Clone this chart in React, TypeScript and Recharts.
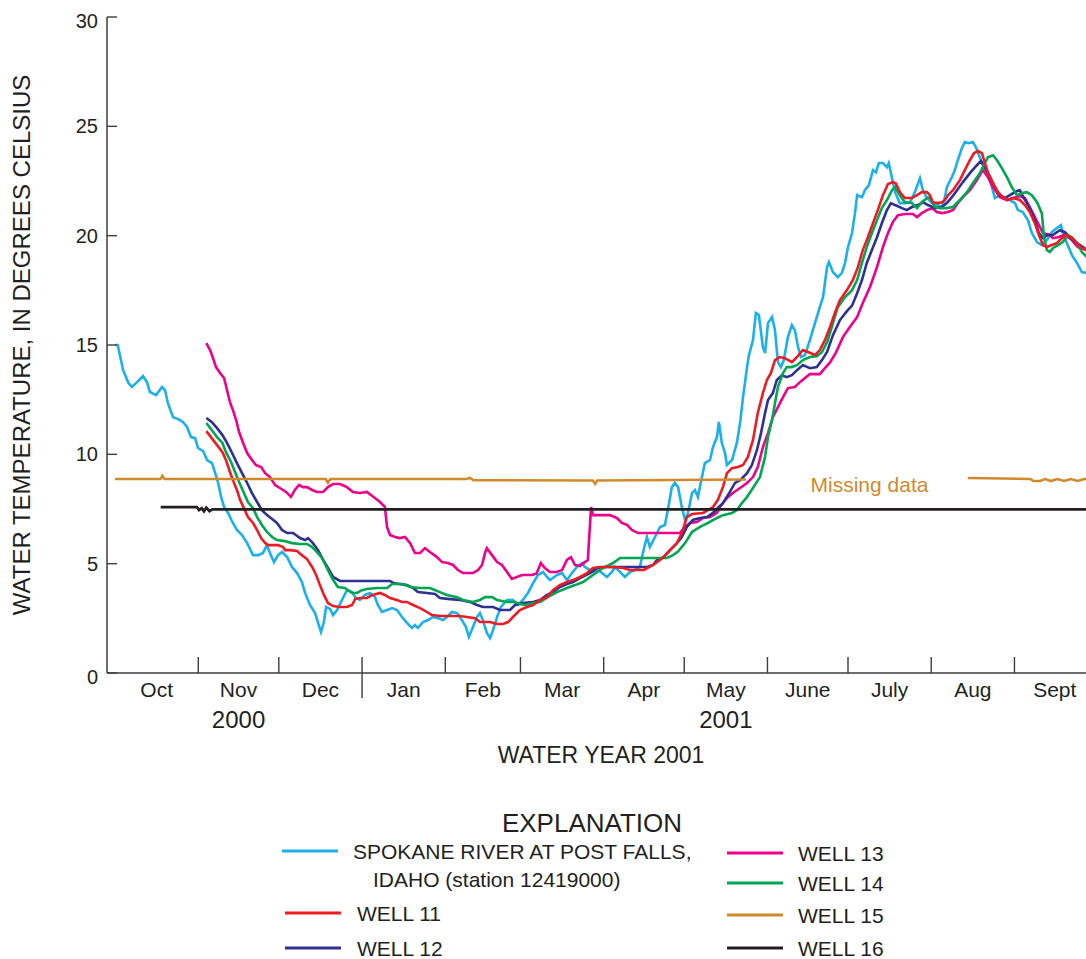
import React from 'react';
import { LineChart, Line, XAxis, YAxis, ReferenceDot } from 'recharts';

type Pt = [number, number | null];

// day 0 = Oct 1, 2000 (start of water year 2001)
const monthStarts = [0, 31, 61, 92, 123, 151, 182, 212, 243, 273, 304, 335, 365];
const monthNames = ['Oct', 'Nov', 'Dec', 'Jan', 'Feb', 'Mar', 'Apr', 'May', 'June', 'July', 'Aug', 'Sept'];
const yearLabels: Record<string, string> = { Nov: '2000', May: '2001' };
const tempTicks = [0, 5, 10, 15, 20, 25, 30];

const spokaneRiver: Pt[] = [
  [0, 15.0], [1, 15.0], [3, 13.85], [5, 13.26], [6.3, 13.08], [8.2, 13.3], [10.4, 13.58], [11.9, 13.3], [13, 12.85],
  [15.3, 12.71], [17.5, 13.08], [18.6, 12.94], [19.7, 12.34], [21.6, 11.7], [23.5, 11.61], [25.3, 11.48], [26.8, 11.25],
  [28.3, 10.79], [29.8, 10.74], [30.9, 10.29], [32.8, 10.15], [34.3, 9.74], [36.1, 9.6], [37.2, 9.19], [38.4, 8.69],
  [39.5, 8.05], [40.6, 7.59], [42.1, 7.32], [43.9, 6.86], [45.4, 6.54], [47.3, 6.31], [49.2, 5.94], [51.4, 5.39],
  [53.3, 5.39], [55.1, 5.49], [56.6, 5.85], [57.7, 5.49], [59.2, 5.07], [60.7, 5.39], [62.2, 5.53], [64.1, 5.3],
  [65.9, 4.85], [67.8, 4.57], [69.6, 4.16], [70.8, 3.66], [72.6, 3.11], [74.5, 2.74], [76.7, 1.87], [77.8, 2.33],
  [78.6, 3.02], [80.1, 2.93], [81.2, 2.65], [82.7, 2.88], [84.5, 3.34], [86.4, 3.79], [88.3, 3.7], [89.4, 3.47],
  [91.2, 3.34], [93.1, 3.57], [95, 3.66], [96.8, 3.47], [97.9, 3.11], [99.4, 2.79], [101.3, 2.88], [103.2, 2.97],
  [105, 2.88], [106.9, 2.56], [108.7, 2.29], [110.6, 2.06], [111.7, 2.19], [112.8, 2.06], [114.7, 2.33], [116.6, 2.42],
  [118.4, 2.56], [120.3, 2.51], [122.1, 2.42], [123.6, 2.56], [125.5, 2.79], [127.4, 2.74], [129.2, 2.42], [130.7, 2.1],
  [131.8, 1.65], [133.3, 2.1], [134.8, 2.56], [135.9, 2.74], [137, 2.42], [138.5, 1.83], [139.7, 1.6], [140.8, 1.97],
  [142.3, 2.56], [143.7, 3.02], [146, 3.34], [148.2, 3.34], [150.1, 3.11], [151.9, 3.34], [153.8, 3.66], [155.7, 4.11],
  [157.5, 4.48], [159.4, 4.62], [160.9, 4.39], [162, 4.25], [164.6, 4.48], [166.5, 4.57], [168.3, 4.25], [170.2, 4.57],
  [172, 4.85], [173.9, 5.03], [175, 4.85], [176.9, 4.71], [178, 4.62], [179.9, 4.71], [181.4, 4.57], [183.2, 4.39],
  [185.1, 4.62], [186.2, 4.85], [188.1, 4.62], [189.9, 4.39], [191.8, 4.62], [193.6, 4.71], [195.5, 4.85], [196.6, 5.49],
  [198.1, 6.22], [199.2, 5.76], [201.1, 6.22], [203, 6.68], [204.8, 6.77], [205.9, 7.45], [207.4, 8.5], [208.5, 8.69],
  [209.7, 8.5], [211.1, 7.59], [212.3, 7.0], [213.4, 7.32], [214.9, 8.23], [216, 8.37], [217.1, 8.05], [218.6, 8.96],
  [219.7, 9.6], [221.6, 9.74], [222.7, 10.33], [224.2, 10.79], [224.9, 11.48], [226, 10.52], [227.2, 10.06], [227.9, 9.51],
  [229.8, 9.74], [231.6, 10.52], [232.8, 11.43], [233.9, 12.62], [235.4, 13.99], [236.1, 14.54], [237.6, 15.22],
  [238.7, 16.46], [239.8, 16.37], [241.3, 14.9], [242.1, 14.63], [243.2, 16.0], [244.7, 16.28], [245.8, 15.68],
  [246.9, 14.22], [248, 13.99], [249.1, 14.31], [250.6, 15.36], [252.1, 15.91], [253.2, 15.68], [254.4, 14.9],
  [255.5, 14.45], [257, 14.54], [258.8, 15.22], [260.7, 16.0], [262.5, 16.73], [263.7, 17.19], [265.2, 18.56],
  [265.9, 18.79], [267.4, 18.33], [269.2, 18.1], [270.7, 18.29], [271.9, 18.75], [273, 19.48], [274.5, 20.12],
  [275.6, 21.03], [276.4, 21.85], [278.2, 21.76], [279.3, 22.08], [280.8, 22.31], [282.3, 23.0], [283.4, 22.9],
  [284.5, 23.32], [286, 23.32], [287.5, 23.13], [288.2, 23.32], [289.4, 22.63], [290.5, 21.99], [292.3, 21.49],
  [294.2, 21.49], [296.1, 21.53], [297.9, 21.99], [299.8, 22.63], [300.9, 22.08], [302.4, 21.72], [304.3, 21.49],
  [306.1, 21.4], [308, 21.31], [309.1, 21.76], [309.8, 22.22], [311.7, 22.68], [312.8, 23.0], [313.9, 23.45],
  [315.4, 24.0], [316.5, 24.28], [318, 24.23], [319.5, 24.28], [320.6, 24.05], [322.1, 23.59], [324, 23.0],
  [325.9, 22.54], [327.7, 21.72], [329.6, 21.85], [331.4, 21.72], [333.3, 21.63], [335.2, 21.49], [336.3, 21.17],
  [338.1, 21.08], [340, 20.71], [341.5, 20.12], [343.4, 19.71], [345.2, 19.57], [347.1, 19.8], [348.9, 20.16],
  [350.8, 20.35], [352.3, 20.48], [353, 20.12], [354.5, 19.66], [356.4, 19.11], [358.3, 18.75], [360.1, 18.33],
  [362, 18.29], [364, 18.2],
];

const well11: Pt[] = [
  [34, 11.06], [36, 10.74], [38, 10.42], [40, 10.1], [41.3, 9.74], [42.8, 9.19], [43.9, 8.82], [45.4, 8.37], [46.6, 7.91],
  [48, 7.54], [49.5, 7.13], [51.4, 6.86], [52.9, 6.54], [54.4, 6.17], [55.9, 5.94], [57, 5.85], [60.7, 5.85], [62.6, 5.76],
  [63.3, 5.62], [65.2, 5.62], [67.8, 5.58], [69.6, 5.39], [71.5, 5.21], [73.4, 4.85], [74.9, 4.48], [76.3, 4.02],
  [77.8, 3.57], [79.3, 3.2], [81.2, 3.06], [83.8, 3.02], [86.4, 3.02], [88.3, 3.11], [89.4, 3.38], [91.2, 3.43],
  [93.8, 3.43], [96, 3.57], [98.7, 3.66], [100.5, 3.57], [102.4, 3.43], [105, 3.34], [106.9, 3.25], [108.7, 3.25],
  [111, 3.11], [113.6, 2.97], [116.2, 2.79], [118, 2.65], [121, 2.61], [124.8, 2.61], [128.5, 2.61], [131.1, 2.56],
  [134.1, 2.51], [135.9, 2.33], [139.7, 2.33], [142.3, 2.24], [144.5, 2.24], [146.4, 2.33], [148.2, 2.56], [150.8, 2.88],
  [153.4, 3.02], [155.7, 3.11], [158.3, 3.34], [160.9, 3.47], [163.1, 3.79], [165.7, 4.02], [168.3, 4.16], [170.6, 4.25],
  [173.2, 4.39], [175.8, 4.57], [178, 4.8], [180.6, 4.85], [185.5, 4.85], [189.2, 4.8], [191.8, 4.71], [197, 4.71],
  [200.4, 4.94], [203, 5.17], [204.3, 5.3], [206.7, 5.62], [209.3, 5.94], [211.1, 6.4], [213, 7.13], [214.9, 7.27],
  [219, 7.32], [220.8, 7.45], [222.7, 7.59], [224.5, 7.91], [226.4, 8.5], [227.9, 9.14], [229.8, 9.37], [232, 9.42],
  [233.9, 9.51], [235.7, 9.88], [237.6, 10.65], [239.4, 11.89], [241.3, 12.8], [242.8, 13.4], [244.3, 13.72],
  [245.8, 14.31], [247.6, 14.45], [249.5, 14.4], [252.1, 14.22], [254, 14.45], [256.2, 14.77], [258.1, 14.68],
  [260.7, 14.54], [262.5, 14.77], [264.4, 15.22], [266.3, 15.82], [268.1, 16.46], [270, 17.05], [272.6, 17.51],
  [274.8, 17.97], [276.7, 18.56], [278.5, 19.34], [280.4, 19.93], [282.3, 20.57], [284.1, 21.17], [286, 21.85],
  [287.9, 22.36], [289.7, 22.45], [290.8, 22.4], [292.3, 21.99], [294.2, 21.72], [296.8, 21.72], [298.7, 21.85],
  [300.5, 21.99], [302.4, 21.99], [303.5, 21.85], [304.6, 21.53], [306.5, 21.49], [308, 21.53], [309.1, 21.63],
  [310.2, 21.85], [312.1, 22.08], [314.7, 22.54], [316.5, 23.0], [318.4, 23.45], [319.9, 23.77], [321.4, 23.87],
  [322.9, 23.77], [324, 23.32], [325.1, 22.9], [327, 22.4], [328.8, 21.99], [330.7, 21.76], [332.5, 21.63],
  [334.4, 21.72], [337, 21.63], [338.9, 21.4], [340.7, 21.08], [342.6, 20.57], [344.1, 20.03], [345.6, 19.57],
  [347.1, 19.48], [348.9, 19.57], [350.8, 19.66], [352.7, 19.89], [354.5, 20.03], [356.4, 19.89], [358.3, 19.66],
  [360.1, 19.43], [362, 19.34], [364, 19.2],
];

const well12: Pt[] = [
  [34, 11.66], [36, 11.48], [38, 11.2], [40, 10.88], [41.7, 10.52], [43.6, 10.06], [45.4, 9.6], [47.3, 9.14], [49.2, 8.69],
  [51, 8.23], [52.9, 7.82], [54.7, 7.45], [56.6, 7.22], [58.5, 7.04], [60.3, 6.86], [62.2, 6.54], [64.1, 6.4], [66.3, 6.4],
  [68.9, 6.17], [70.8, 6.08], [71.9, 6.17], [73.7, 5.94], [75.6, 5.62], [77.5, 5.17], [79.3, 4.8], [81.2, 4.39],
  [83.8, 4.21], [102.4, 4.21], [104, 4.1], [108.7, 4.02], [111, 3.89], [112.8, 3.7], [116.2, 3.66], [119.2, 3.61],
  [121, 3.43], [124.8, 3.38], [128.5, 3.34], [132.2, 3.25], [134.8, 3.11], [137, 3.02], [140.8, 3.02], [143.4, 2.88],
  [147.1, 2.88], [149, 3.11], [151.9, 3.2], [155.7, 3.25], [158.3, 3.34], [160.9, 3.57], [163.1, 3.7], [165.7, 3.93],
  [168.3, 4.07], [170.6, 4.16], [173.2, 4.34], [176.9, 4.57], [179.5, 4.8], [182.5, 4.85], [198.1, 4.85], [200.4, 4.94],
  [201.8, 5.17], [204.3, 5.3], [206.7, 5.62], [209.3, 5.94], [211.1, 6.22], [213, 6.68], [215.2, 7.0], [217.9, 7.09],
  [220.5, 7.13], [222.7, 7.32], [224.9, 7.59], [226.4, 7.77], [229, 8.28], [230.9, 8.69], [232.8, 8.82], [235.4, 9.14],
  [237.2, 9.51], [239.1, 10.2], [240.6, 10.97], [242.1, 11.89], [243.2, 12.48], [245, 12.8], [246.5, 13.4],
  [248.4, 13.62], [250.2, 13.53], [252.1, 13.62], [254, 13.85], [256.2, 14.08], [258.8, 13.94], [261.4, 13.99],
  [263.3, 14.31], [265.2, 14.68], [267.4, 15.45], [270, 16.14], [272.6, 16.55], [274.5, 16.8], [276.4, 17.37],
  [278.2, 17.97], [280, 18.75], [281.9, 19.34], [283.8, 19.93], [285.6, 20.57], [287.5, 21.17], [289, 21.49],
  [290.5, 21.4], [293.1, 21.26], [294.9, 21.17], [296.8, 21.31], [299, 21.4], [300.9, 21.53], [302.8, 21.4],
  [305.4, 21.26], [308, 21.31], [309.8, 21.49], [311.7, 21.76], [313.6, 22.08], [315.8, 22.45], [318.4, 22.86],
  [321, 23.22], [322.5, 23.41], [324, 23.13], [325.9, 22.68], [327.7, 22.22], [329.6, 21.85], [331.4, 21.72],
  [333.3, 21.85], [335.9, 22.04], [337, 22.08], [338.5, 21.72], [340.7, 21.26], [342.6, 20.71], [344.1, 20.12],
  [345.6, 19.89], [347.4, 20.03], [349.3, 20.03], [351.9, 20.25], [353.8, 20.16], [355.6, 19.93], [358.3, 19.66],
  [360.5, 19.48], [362, 19.34], [364, 19.2],
];

const well13: Pt[] = [
  [34, 15.09], [35.4, 14.77], [36.5, 14.4], [37.6, 13.99], [39.1, 13.72], [40.6, 13.49], [41.7, 12.94], [42.8, 12.39],
  [43.9, 12.02], [45.1, 11.57], [46.2, 11.02], [47.7, 10.52], [49.2, 10.06], [51, 9.74], [52.5, 9.51], [54.4, 9.42],
  [55.9, 9.14], [57.7, 8.96], [59.6, 8.6], [61.4, 8.46], [63.7, 8.28], [65.5, 8.05], [67, 8.37], [68.5, 8.6], [70, 8.5],
  [71.5, 8.5], [73.4, 8.37], [75.2, 8.28], [77.5, 8.28], [79.3, 8.5], [81.2, 8.64], [83.8, 8.64], [86.4, 8.5],
  [88.6, 8.28], [91.2, 8.23], [93.8, 8.28], [96.8, 8.0], [98.7, 7.82], [99.8, 7.68], [100.5, 7.6], [101.3, 6.68],
  [102.4, 6.31], [104.3, 6.22], [106.1, 6.17], [108, 6.22], [109.9, 5.94], [111.7, 5.49], [113.6, 5.49], [115.4, 5.71],
  [117.3, 5.53], [119.9, 5.3], [121.8, 5.07], [124, 5.03], [125.9, 4.94], [127.7, 4.71], [129.6, 4.57], [133.3, 4.57],
  [135.2, 4.71], [136.7, 4.94], [137.8, 5.49], [138.5, 5.71], [140.4, 5.39], [142.3, 5.07], [144.1, 4.94], [146, 4.62],
  [147.8, 4.3], [149.7, 4.39], [151.6, 4.48], [155.3, 4.48], [157, 4.55], [158.6, 5.03], [160.1, 4.8], [162, 4.62],
  [164.6, 4.62], [166.5, 4.71], [168.3, 5.17], [169.8, 5.3], [171.3, 4.94], [173.2, 4.89], [175, 5.07], [176.1, 5.17],
  [177.3, 7.59], [178, 7.22], [184.3, 7.22], [186.9, 7.09], [188.8, 6.86], [190.7, 6.77], [192.5, 6.54], [194.8, 6.4],
  [210.4, 6.4], [212.3, 6.68], [214.1, 6.86], [216.7, 6.9], [219, 7.09], [221.6, 7.13], [224.2, 7.32], [225.3, 7.59],
  [227.9, 8.0], [230.1, 8.23], [232.8, 8.46], [235.4, 8.69], [237.6, 8.96], [239.4, 9.42], [241.3, 10.33],
  [243.2, 10.97], [245, 11.7], [246.9, 12.16], [248.8, 12.62], [250.6, 13.03], [253.2, 13.08], [255.1, 13.3],
  [257, 13.49], [258.8, 13.67], [262.5, 13.67], [264.4, 13.94], [266.3, 14.2], [268.5, 14.65], [271.1, 15.36],
  [273.7, 15.82], [276.4, 16.28], [278.5, 16.92], [281.2, 17.65], [283.8, 18.56], [286, 19.48], [287.9, 20.12],
  [289.7, 20.62], [291.6, 20.94], [294.2, 20.99], [297.2, 20.99], [298.7, 20.85], [300.5, 21.03], [302.4, 21.17],
  [304.3, 21.26], [306.1, 21.08], [308, 21.03], [310.2, 21.08], [312.1, 21.17], [313.9, 21.49], [315.8, 21.76],
  [318.4, 22.08], [321, 22.54], [323.2, 23.0], [325.1, 22.68], [327, 22.22], [329.6, 21.76], [332.2, 21.63],
  [334.4, 21.72], [337, 21.81], [338.9, 21.72], [340.7, 21.31], [342.6, 20.85], [344.5, 20.39], [345.6, 20.12],
  [348.2, 20.03], [349.3, 19.89], [351.2, 19.93], [353.8, 20.03], [356.4, 19.8], [358.6, 19.48], [362, 19.34],
  [364, 19.25],
];

const well14: Pt[] = [
  [34, 11.43], [36, 11.11], [38, 10.79], [40, 10.52], [41.3, 10.1], [43.2, 9.65], [44.7, 9.19], [46.2, 8.73], [48, 8.23],
  [49.5, 7.82], [51.4, 7.54], [52.9, 7.13], [54.7, 6.77], [56.6, 6.45], [58.5, 6.22], [60.3, 6.08], [63.3, 6.03],
  [65.9, 5.94], [68.9, 5.9], [71.5, 5.9], [73.4, 5.76], [75.2, 5.53], [77.1, 5.26], [78.9, 4.8], [80.8, 4.34], [83, 3.93],
  [85.6, 3.89], [88.3, 3.66], [90.1, 3.66], [92, 3.79], [93.8, 3.84], [97.6, 3.89], [101.3, 3.89], [103.2, 4.07],
  [107.2, 4.07], [109.9, 3.93], [113.6, 3.89], [117.3, 3.89], [121, 3.7], [123.6, 3.57], [127.4, 3.47], [129.6, 3.34],
  [133.3, 3.25], [135.9, 3.34], [137.8, 3.47], [140.4, 3.47], [142.3, 3.34], [146, 3.25], [149, 3.25], [150.8, 3.15],
  [152.7, 3.11], [155.7, 3.2], [158.3, 3.25], [161.2, 3.47], [164.6, 3.7], [168.3, 3.89], [171.3, 4.02], [174.3, 4.16],
  [178, 4.48], [181.7, 4.8], [185.5, 5.03], [188.1, 5.26], [205.6, 5.26], [207.8, 5.39], [209.7, 5.55], [212.3, 5.94],
  [214.9, 6.45], [217.9, 6.68], [220.8, 6.86], [224.2, 7.09], [226.4, 7.22], [229.8, 7.32], [231.6, 7.45], [233.5, 7.77],
  [235.4, 8.05], [237.6, 8.46], [240.2, 8.96], [242.1, 9.88], [243.2, 10.79], [244.7, 11.57], [245.8, 12.34],
  [246.9, 13.08], [248.8, 13.72], [250.2, 13.99], [252.1, 13.99], [254, 14.08], [256.2, 14.31], [258.8, 14.45],
  [261.4, 14.49], [263.3, 14.68], [265.3, 15.15], [267.4, 16.0], [269.2, 16.73], [271.9, 17.19], [274.5, 17.51],
  [276.4, 17.97], [278.2, 18.75], [280, 19.48], [281.9, 20.12], [283.8, 20.71], [285.6, 21.26], [287.5, 21.63],
  [289.4, 22.08], [290.5, 22.22], [292.3, 21.85], [294.2, 21.53], [296.8, 21.49], [298.7, 21.26], [300.5, 21.53],
  [302.4, 21.72], [303.5, 21.76], [305.4, 21.31], [307.2, 21.26], [309.8, 21.26], [312.1, 21.31], [314.7, 21.63],
  [317.3, 21.99], [319.5, 22.4], [322.1, 22.86], [324, 23.32], [325.1, 23.59], [327, 23.68], [328.5, 23.45],
  [330.3, 23.09], [332.2, 22.68], [334, 22.22], [335.9, 21.85], [337.8, 21.95], [339.6, 21.99], [341.5, 21.85],
  [343.4, 21.53], [345.2, 21.03], [346, 19.93], [347.1, 19.34], [348.2, 19.25], [349.3, 19.43], [351.2, 19.57],
  [353, 19.71], [354.9, 20.03], [356.4, 19.93], [358.3, 19.66], [360.1, 19.25], [362, 19.02], [364, 18.9],
];

// gap between day 235 and day 317 is the "Missing data" stretch
const well15: Pt[] = [
  [0, 8.87], [17, 8.87], [17.6, 9.02], [18.4, 8.87], [78.5, 8.87], [79.3, 8.7], [80.2, 8.87], [131, 8.87], [132, 8.93],
  [133.5, 8.82], [178, 8.8], [178.8, 8.65], [179.6, 8.8], [235, 8.85], [236, null], [317.6, 8.92], [341, 8.87],
  [342, 8.78], [344.5, 8.78], [346.5, 8.87], [348.5, 8.78], [351, 8.87], [353.5, 8.78], [356, 8.87], [358.5, 8.78],
  [361, 8.87], [365, 8.87],
];

const well16: Pt[] = [
  [17, 7.59], [30.5, 7.59], [31.3, 7.45], [32.3, 7.54], [33.1, 7.4], [34, 7.56], [35.2, 7.4], [36.2, 7.48], [365, 7.48],
];

const FONT = '"Liberation Sans", Arial, Helvetica, sans-serif';
const AXIS = '#3d3d3d';
const TEXT = '#231f20';
const COLORS = {
  river: '#1cb0ea',
  w11: '#ed1c24',
  w12: '#2e3192',
  w13: '#ec008c',
  w14: '#00a651',
  w15: '#d08a2c',
  w16: '#231f20',
};

const toRows = (pts: Pt[]) => pts.map(([d, v]) => ({ d, v }));

const midMonths = monthStarts.slice(0, -1).map((s, i) => (s + monthStarts[i + 1]) / 2);
// Oct 1 sits just inside the left frame and has no tick of its own
const innerStarts = monthStarts.slice(1, -1);
const bottomTicks = [...innerStarts, ...midMonths].sort((a, b) => a - b);

const LeftTick = ({ x, y, payload }: any) => {
  const nudge = payload.value === 30 || payload.value === 0 ? 4 : 0;
  return (
    <g>
      <line x1={x} y1={y} x2={x + 10} y2={y} stroke={AXIS} strokeWidth={1.4} />
      <text x={x - 9} y={y + 7 + nudge} textAnchor="end" fontSize={20} fill={TEXT} fontFamily={FONT}>
        {payload.value}
      </text>
    </g>
  );
};

const RightTick = ({ x, y }: any) => (
  <line x1={x} y1={y} x2={x - 10} y2={y} stroke={AXIS} strokeWidth={1.4} />
);

const TopTick = ({ x, y }: any) => (
  <line x1={x} y1={y} x2={x} y2={y + 15} stroke={AXIS} strokeWidth={1.4} />
);

const BottomTick = ({ x, y, payload }: any) => {
  const v = payload.value;
  if (innerStarts.includes(v)) {
    // Jan 1 marks the calendar-year change, so its tick runs through the axis
    const below = v === 92 ? 25 : 0;
    return <line x1={x} y1={y - 16} x2={x} y2={y + below} stroke={AXIS} strokeWidth={1.4} />;
  }
  const name = monthNames[midMonths.indexOf(v)];
  const year = yearLabels[name];
  return (
    <g fontFamily={FONT} fill={TEXT}>
      <text x={x} y={y + 24} textAnchor="middle" fontSize={21}>{name}</text>
      {year && <text x={x} y={y + 55} textAnchor="middle" fontSize={24}>{year}</text>}
    </g>
  );
};

const YTitle = ({ viewBox }: any) => {
  const cx = viewBox.x - 37;
  const cy = viewBox.y + viewBox.height / 2;
  return (
    <text x={cx} y={cy} transform={`rotate(-90 ${cx} ${cy})`} textAnchor="middle" fontSize={24} fill={TEXT} fontFamily={FONT}>
      WATER TEMPERATURE, IN DEGREES CELSIUS
    </text>
  );
};

const legendLeft = [
  { key: 'river', color: COLORS.river, lines: ['SPOKANE RIVER AT POST FALLS,', 'IDAHO (station 12419000)'], y: 851 },
  { key: 'w11', color: COLORS.w11, lines: ['WELL 11'], y: 913 },
  { key: 'w12', color: COLORS.w12, lines: ['WELL 12'], y: 948 },
];
const legendRight = [
  { key: 'w13', color: COLORS.w13, label: 'WELL 13', y: 853 },
  { key: 'w14', color: COLORS.w14, label: 'WELL 14', y: 883 },
  { key: 'w15', color: COLORS.w15, label: 'WELL 15', y: 915 },
  { key: 'w16', color: COLORS.w16, label: 'WELL 16', y: 948 },
];

const Explanation = () => (
  <svg width={1086} height={959} style={{ position: 'absolute', left: 0, top: 0, pointerEvents: 'none' }}>
    <g fontFamily={FONT} fill={TEXT}>
      <text x={592} y={832} textAnchor="middle" fontSize={26}>EXPLANATION</text>
      {legendLeft.map((it, i) => (
        <g key={it.key}>
          <line x1={i === 0 ? 282 : 285} x2={i === 0 ? 338 : 341} y1={it.y} y2={it.y} stroke={it.color} strokeWidth={3} />
          <text x={i === 0 ? 353 : 357} y={it.y + 8} fontSize={21}>{it.lines[0]}</text>
          {it.lines[1] && <text x={373} y={it.y + 36} fontSize={21}>{it.lines[1]}</text>}
        </g>
      ))}
      {legendRight.map((it) => (
        <g key={it.key}>
          <line x1={727} x2={783} y1={it.y} y2={it.y} stroke={it.color} strokeWidth={3} />
          <text x={798} y={it.y + 8} fontSize={21}>{it.label}</text>
        </g>
      ))}
    </g>
  </svg>
);

export default function App() {
  const lineProps = {
    type: 'linear' as const,
    dataKey: 'v',
    xAxisId: 'b',
    yAxisId: 'l',
    dot: false,
    activeDot: false,
    strokeWidth: 2.6,
    isAnimationActive: false,
    connectNulls: false,
  };

  return (
    <div style={{ position: 'fixed', left: 0, top: 0, width: 1086, height: 959, overflow: 'hidden', background: '#fff' }}>
      <LineChart width={1120} height={959} margin={{ top: 17, left: 67, right: 25, bottom: 186 }}>
        <XAxis
          xAxisId="b"
          type="number"
          dataKey="d"
          domain={[-3, 365]}
          allowDataOverflow
          ticks={bottomTicks}
          interval={0}
          height={100}
          tickSize={0}
          tickMargin={0}
          tickLine={false}
          axisLine={{ stroke: AXIS, strokeWidth: 1.5 }}
          tick={<BottomTick />}
          label={{ value: 'WATER YEAR 2001', position: 'insideBottom', offset: 10, fontSize: 23, fill: TEXT, fontFamily: FONT }}
        />
        <XAxis
          xAxisId="t"
          orientation="top"
          type="number"
          dataKey="d"
          domain={[-3, 365]}
          allowDataOverflow
          ticks={innerStarts}
          interval={0}
          height={0}
          tickSize={0}
          tickMargin={0}
          tickLine={false}
          axisLine={{ stroke: AXIS, strokeWidth: 1.5 }}
          tick={<TopTick />}
        />
        <YAxis
          yAxisId="l"
          type="number"
          domain={[0, 30]}
          ticks={tempTicks}
          interval={0}
          width={40}
          tickSize={0}
          tickMargin={0}
          tickLine={false}
          axisLine={{ stroke: AXIS, strokeWidth: 1.5 }}
          tick={<LeftTick />}
          label={{ content: <YTitle /> }}
        />
        <YAxis
          yAxisId="r"
          orientation="right"
          type="number"
          domain={[0, 30]}
          ticks={tempTicks.slice(1, -1)}
          interval={0}
          width={0}
          tickSize={0}
          tickMargin={0}
          tickLine={false}
          axisLine={{ stroke: AXIS, strokeWidth: 1.5 }}
          tick={<RightTick />}
        />
        <Line {...lineProps} data={toRows(spokaneRiver)} stroke={COLORS.river} name="Spokane River" />
        <Line {...lineProps} data={toRows(well13)} stroke={COLORS.w13} name="Well 13" />
        <Line {...lineProps} data={toRows(well12)} stroke={COLORS.w12} name="Well 12" />
        <Line {...lineProps} data={toRows(well14)} stroke={COLORS.w14} name="Well 14" />
        <Line {...lineProps} data={toRows(well11)} stroke={COLORS.w11} name="Well 11" />
        <Line {...lineProps} data={toRows(well15)} stroke={COLORS.w15} name="Well 15" />
        <Line {...lineProps} data={toRows(well16)} stroke={COLORS.w16} strokeWidth={2.8} name="Well 16" />
        <ReferenceDot
          xAxisId="b"
          yAxisId="l"
          x={281}
          y={8.6}
          r={0}
          fill="none"
          stroke="none"
          label={{ value: 'Missing data', position: 'center', fill: COLORS.w15, fontSize: 21, fontFamily: FONT }}
        />
      </LineChart>
      <Explanation />
    </div>
  );
}
